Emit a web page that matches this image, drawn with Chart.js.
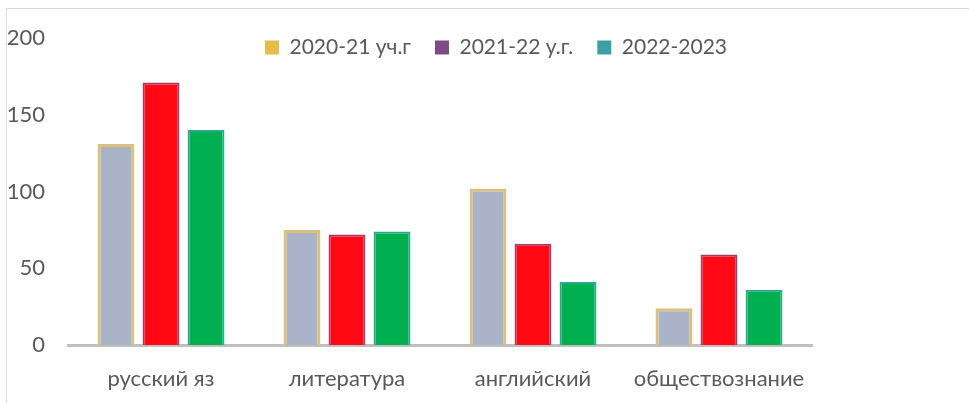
<!DOCTYPE html>
<html><head><meta charset="utf-8">
<script src="https://cdn.jsdelivr.net/npm/chart.js@4.4.1/dist/chart.umd.min.js"></script>
<style>html,body{margin:0;padding:0;background:#fff;}#wrap{width:969px;height:403px;position:relative;}</style>
</head><body>
<div id="wrap"><canvas id="c" width="969" height="403"></canvas></div>
<script>
const categories = ['русский яз', 'литература', 'английский', 'обществознание'];
const seriesNames = ['2020-21 уч.г', '2021-22 у.г.', '2022-2023'];
const values2020 = [131, 75, 102, 24];
const values2021 = [171, 72, 66, 59];
const values2022 = [140, 74, 41, 36];
const yTicks = [0, 50, 100, 150, 200];

const FONT = 'Lato, "Open Sans", sans-serif';
const TXT = '#595959';
const legendFill = ['#E5BE4A', '#7D4C85', '#3DA0A6'];

const framePlugin = {
  id: 'frame',
  beforeDraw(chart) {
    const ctx = chart.ctx;
    ctx.save();
    ctx.strokeStyle = '#D9D9D9';
    ctx.lineWidth = 1;
    ctx.beginPath();
    ctx.moveTo(6.5, 403); ctx.lineTo(6.5, 8.5); ctx.lineTo(969, 8.5);
    ctx.stroke();
    ctx.restore();
  }
};
const legendShift = {
  id: 'legendShift',
  afterLayout(chart) {
    const lg = chart.legend;
    const dx = 496 - (lg.left + lg.right) / 2;
    lg.left += dx; lg.right += dx;
    lg.top = 13;
    lg.bottom = lg.top + 70;
    lg.height = 70;
  }
};

new Chart(document.getElementById('c'), {
  type: 'bar',
  data: {
    labels: categories,
    datasets: [
      { label: seriesNames[0], data: values2020, backgroundColor: '#AAB3C7', borderColor: '#DCC278', borderWidth: 3 },
      { label: seriesNames[1], data: values2021, backgroundColor: '#FF0A14', borderColor: '#A33A6A', borderWidth: 2 },
      { label: seriesNames[2], data: values2022, backgroundColor: '#00B050', borderColor: '#2BA88A', borderWidth: 2 }
    ]
  },
  options: {
    responsive: false,
    animation: false,
    devicePixelRatio: 1,
    layout: { padding: { left: 0, right: 157, top: 18, bottom: 0 } },
    datasets: { bar: { categoryPercentage: 0.726, barPercentage: 0.82 } },
    plugins: {
      tooltip: { enabled: false },
      legend: {
        position: 'top',
        maxHeight: 20,
        labels: {
          font: { family: FONT, size: 21 },
          color: TXT,
          boxWidth: 14,
          boxHeight: 14,
          padding: 24,
          generateLabels(chart) {
            return chart.data.datasets.map((ds, i) => ({
              text: ds.label,
              fillStyle: legendFill[i],
              strokeStyle: legendFill[i],
              lineWidth: 0,
              fontColor: TXT,
              hidden: false,
              datasetIndex: i
            }));
          }
        }
      }
    },
    scales: {
      x: {
        grid: { display: false, drawTicks: false },
        border: { display: true, color: '#BFBFBF', width: 3 },
        ticks: { font: { family: FONT, size: 22 }, color: TXT, padding: 21, maxRotation: 0 },
        afterFit(s) { s.height = 58; }
      },
      y: {
        min: 0, max: 200,
        afterBuildTicks(s) { s.ticks = yTicks.map(v => ({ value: v })); },
        grid: { display: false, drawTicks: false },
        border: { display: false },
        ticks: { font: { family: FONT, size: 22 }, color: TXT, padding: 23 },
        afterFit(s) { s.width = 68; }
      }
    }
  },
  plugins: [framePlugin, legendShift]
});
</script>
</body></html>
